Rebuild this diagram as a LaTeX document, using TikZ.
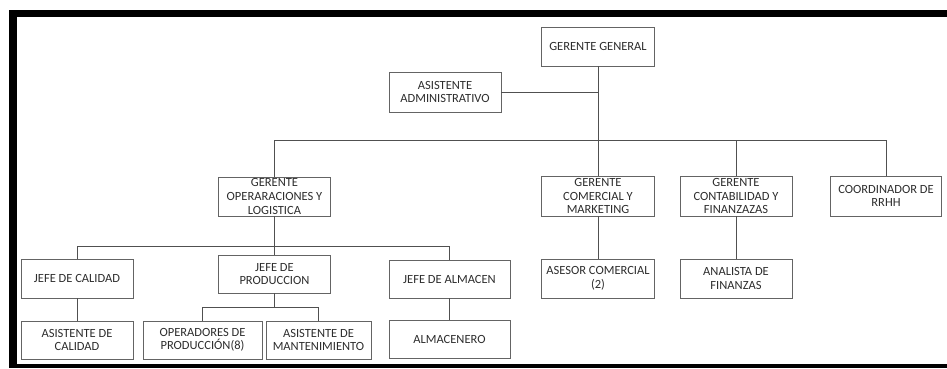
\documentclass[tikz,border=0pt]{standalone}
\usepackage{fontspec}
\setmainfont{Carlito}
\definecolor{orgLine}{RGB}{80,80,80}
\definecolor{orgBox}{RGB}{100,100,100}
\definecolor{orgText}{RGB}{45,45,45}
\begin{document}
\begin{tikzpicture}[x=1pt,y=-1pt,
  puesto/.style={draw=orgBox,line width=0.8pt,minimum width=112,minimum height=39,inner sep=0pt,align=center,text=orgText,
    font=\fontsize{12.5}{13.6}\selectfont},
  enlace/.style={draw=orgLine,line width=0.8pt}]
\useasboundingbox (0,0) rectangle (947,368);
\fill[black] (9,10) rectangle (947,17); \fill[black] (9,10) rectangle (17,368); \fill[black] (9,364) rectangle (947,368);
\coordinate (bus1) at (0,140); \coordinate (bus2) at (0,246); \coordinate (bus3) at (0,307);
\node[puesto,minimum width=113] (gg) at (598,46.5) {GERENTE GENERAL};
\node[puesto,minimum height=40] (aa) at (445,92) {ASISTENTE\\ADMINISTRATIVO};
\node[puesto] (gol) at (274.5,196.5) {GERENTE\\OPERARACIONES Y\\LOGISTICA};
\node[puesto,minimum width=113,minimum height=40] (gcm) at (598,196) {GERENTE\\COMERCIAL Y\\MARKETING};
\node[puesto,minimum height=40] (gcf) at (736,196) {GERENTE\\CONTABILIDAD Y\\FINANZAZAS};
\node[puesto,minimum width=111,minimum height=40] (rrhh) at (886,196) {COORDINADOR DE\\RRHH};
\node[puesto] (jcal) at (77,278.5) {JEFE DE CALIDAD};
\node[puesto,minimum height=38] (jprod) at (274.5,274) {JEFE DE\\PRODUCCION};
\node[puesto,minimum width=121,minimum height=38] (jalm) at (449.5,279) {JEFE DE ALMACEN};
\node[puesto,minimum width=113] (ases) at (598,278.5) {ASESOR COMERCIAL\\(2)};
\node[puesto] (anal) at (736,278.5) {ANALISTA DE\\FINANZAS};
\node[puesto,minimum height=38] (acal) at (77,340) {ASISTENTE DE\\CALIDAD};
\node[puesto,minimum width=119,minimum height=38] (oper) at (202.5,340) {OPERADORES DE\\PRODUCCIÓN(8)};
\node[puesto,minimum width=105,minimum height=38] (mant) at (318.5,340) {ASISTENTE DE\\MANTENIMIENTO};
\node[puesto,minimum width=121,minimum height=38] (almc) at (449.5,339) {ALMACENERO};
\draw[enlace] (gg.south) -- (gcm.north); \draw[enlace] (aa.east) -- (aa.east -| gg.south);
\draw[enlace] (gol.north) |- (bus1 -| rrhh.north) -- (rrhh.north); \draw[enlace] (gcf.north) -- (gcf.north |- bus1);
\draw[enlace] (gcm.south) -- (ases.north); \draw[enlace] (gcf.south) -- (anal.north);
\draw[enlace] (gol.south) -- (jprod.north); \draw[enlace] (jcal.north) |- (bus2 -| jalm.north) -- (jalm.north);
\draw[enlace] (jprod.south) -- (jprod.south |- bus3); \draw[enlace] (oper.north) |- (bus3 -| mant.north) -- (mant.north);
\draw[enlace] (jcal.south) -- (acal.north); \draw[enlace] (jalm.south) -- (almc.north);
\end{tikzpicture}
\end{document}
